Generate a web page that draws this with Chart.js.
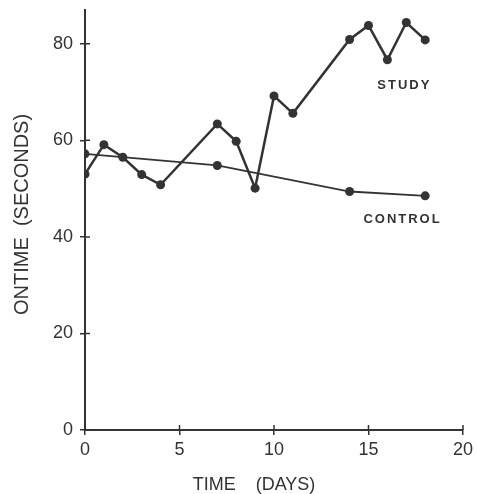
<!DOCTYPE html>
<html>
<head>
<meta charset="utf-8">
<title>Ontime vs Time</title>
<script src="https://cdn.jsdelivr.net/npm/chart.js@4/dist/chart.umd.min.js"></script>
<style>
  html, body { margin: 0; padding: 0; background: #fff; }
  #chart { display: block; }
</style>
</head>
<body>
<canvas id="chart" width="477" height="494"></canvas>
<script>
// data (days, seconds)
const studyDays = [0, 1, 2, 3, 4, 7, 8, 9, 10, 11, 14, 15, 16, 17, 18];
const studyOntime = [53.0, 59.1, 56.5, 52.9, 50.8, 63.4, 59.8, 50.1, 69.2, 65.6, 80.9, 83.8, 76.7, 84.4, 80.8];
const controlDays = [0, 7, 14, 18];
const controlOntime = [57.2, 54.8, 49.4, 48.5];

const xTicks = [0, 5, 10, 15, 20];
const yTicks = [0, 20, 40, 60, 80];

// series labels written next to the lines: [text, day, seconds]
const seriesLabels = [['STUDY', 16.9, 71.3], ['CONTROL', 16.8, 43.6]];

const ink = '#333333';

// small ticks that cross the axis line (inner half), plus the series labels
const extrasPlugin = {
  id: 'extras',
  afterDraw(chart) {
    const ctx = chart.ctx;
    const xs = chart.scales.x, ys = chart.scales.y;
    ctx.save();
    ctx.strokeStyle = ink;
    ctx.lineWidth = 1.5;
    ctx.beginPath();
    xTicks.forEach(v => {
      const px = xs.getPixelForValue(v);
      ctx.moveTo(px, ys.bottom); ctx.lineTo(px, ys.bottom - 5);
    });
    yTicks.forEach(v => {
      const py = ys.getPixelForValue(v);
      ctx.moveTo(xs.left, py); ctx.lineTo(xs.left + 5, py);
    });
    ctx.stroke();

    ctx.fillStyle = ink;
    ctx.font = 'bold 13px "Liberation Sans", Arial, sans-serif';
    ctx.letterSpacing = '2px';
    ctx.textAlign = 'center';
    ctx.textBaseline = 'middle';
    seriesLabels.forEach(l => {
      ctx.fillText(l[0], xs.getPixelForValue(l[1]), ys.getPixelForValue(l[2]));
    });
    ctx.restore();
  }
};

const tickFont = { family: '"Liberation Sans", Arial, sans-serif', size: 18 };

new Chart(document.getElementById('chart').getContext('2d'), {
  type: 'line',
  data: {
    datasets: [
      {
        label: 'STUDY',
        data: studyDays.map((d, i) => ({ x: d, y: studyOntime[i] })),
        borderColor: ink, backgroundColor: ink, borderWidth: 2.5,
        pointRadius: 4.5, pointBackgroundColor: ink, pointBorderWidth: 0, tension: 0
      },
      {
        label: 'CONTROL',
        data: controlDays.map((d, i) => ({ x: d, y: controlOntime[i] })),
        borderColor: ink, backgroundColor: ink, borderWidth: 1.8,
        pointRadius: 4.5, pointBackgroundColor: ink, pointBorderWidth: 0, tension: 0
      }
    ]
  },
  options: {
    responsive: false,
    animation: false,
    layout: { padding: { top: 10, right: 13, bottom: 0, left: 0 } },
    plugins: { legend: { display: false }, tooltip: { enabled: false } },
    scales: {
      x: {
        type: 'linear', min: 0, max: 20,
        afterBuildTicks: s => { s.ticks = xTicks.map(v => ({ value: v })); },
        afterFit: s => { s.height = 64; },
        border: { color: ink, width: 2 },
        grid: { drawOnChartArea: false, drawTicks: true, tickLength: 5, color: ink, lineWidth: 1.5 },
        ticks: { color: ink, font: tickFont, padding: 4, maxRotation: 0 },
        // trailing spaces pull the title a bit left of the axis centre, as in the original
        title: {
          display: true, text: 'TIME    (DAYS)        ', color: ink,
          font: { family: '"Liberation Sans", Arial, sans-serif', size: 18, lineHeight: 1 },
          padding: { top: 0, bottom: 0 }
        }
      },
      y: {
        type: 'linear', min: 0, max: 87,
        afterBuildTicks: s => { s.ticks = yTicks.map(v => ({ value: v })); },
        afterFit: s => { s.width = 85; s.paddingTop = 0; s.paddingBottom = 0; },
        border: { color: ink, width: 2 },
        grid: { drawOnChartArea: false, drawTicks: true, tickLength: 5, color: ink, lineWidth: 1.5 },
        ticks: { color: ink, font: tickFont, padding: 7 },
        title: {
          display: true, text: '  ONTIME  (SECONDS)', color: ink,
          font: { family: '"Liberation Sans", Arial, sans-serif', size: 20, lineHeight: 1 },
          padding: { top: 12, bottom: 0 }
        }
      }
    }
  },
  plugins: [extrasPlugin]
});
</script>
</body>
</html>
